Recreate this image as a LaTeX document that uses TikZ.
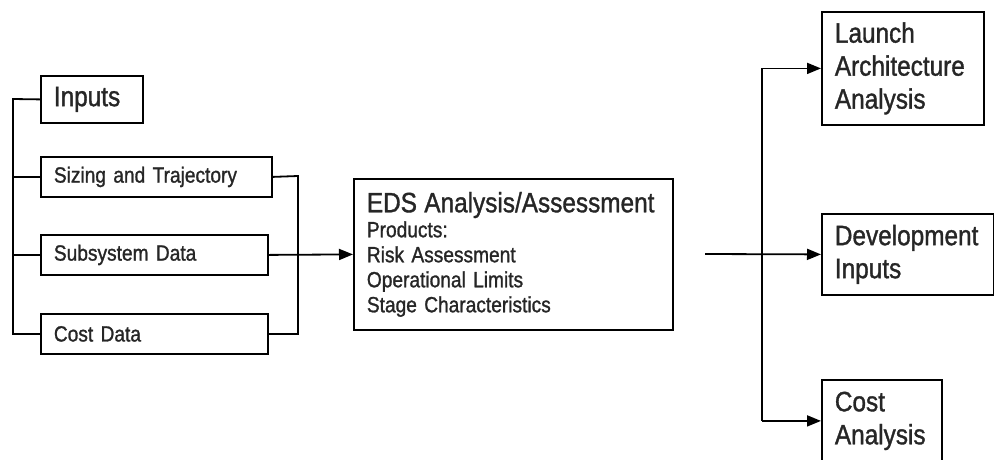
\documentclass[tikz,border=0pt]{standalone}
\usepackage{fontspec}
\setmainfont{Liberation Sans}[FakeStretch=0.87,FakeBold=1.2,WordSpace=0.8]
\usepackage{tikz}
\usetikzlibrary{arrows.meta,calc}

\newcommand{\bigtxt}{\fontsize{28}{33}\selectfont}
\newcommand{\smalltxt}{\fontsize{22}{25}\selectfont}

\tikzset{
  box/.style={draw,line width=1.8pt,anchor=north west,inner xsep=13pt,inner ysep=0pt,align=left,text=black!85},
  link/.style={line width=1.8pt},
}

\begin{document}
\begin{tikzpicture}[x=1pt,y=-1pt,line cap=butt,line join=miter,>={Triangle[length=14pt,width=11pt]}]
\useasboundingbox (0,0) rectangle (994,459);
\clip (0,0) rectangle (994,459);
% input boxes
\node[box,text width=76pt,minimum height=47pt,font=\bigtxt] (inputs) at (40,75) {Inputs};
\node[box,text width=205pt,minimum height=40pt,font=\smalltxt] (sizing) at (40,156) {Sizing and Trajectory};
\node[box,text width=201pt,minimum height=40pt,font=\smalltxt] (subsys) at (40,234) {Subsystem Data};
\node[box,text width=201pt,minimum height=40pt,font=\smalltxt] (costd) at (40,313) {Cost Data};
% analysis
\node[box,text width=293pt,minimum height=151pt,font=\smalltxt] (eds) at (353,178)
  {\mbox{\bigtxt EDS Analysis/Assessment}\\Products:\\Risk Assessment\\Operational Limits\\Stage Characteristics};
% outputs
\node[box,text width=136pt,minimum height=113pt,font=\bigtxt] (launch) at (821,11) {Launch\\Architecture\\Analysis};
\node[box,text width=146pt,minimum height=81pt,font=\bigtxt] (dev) at (821,213) {Development\\Inputs};
\node[box,text width=94pt,minimum height=82pt,font=\bigtxt] (costan) at (821,379) {Cost\\Analysis};
% connectors
\coordinate (lbus) at (13,99);
\coordinate (rbus) at (298,176);
\coordinate (out) at (705,254);
\coordinate (obus) at (762,254);
\draw[link] (inputs.west) -- (lbus) |- (costd.west);
\draw[link] (sizing.west) -- (sizing.west -| lbus);
\draw[link] (subsys.west) -- (subsys.west -| lbus);
\draw[link] (sizing.east) -- (rbus) |- (costd.east);
\draw[link,->] (subsys.east) -- (eds.west);
\draw[link,->] (out) -- (dev.west);
\draw[link,->] (obus |- costan.west) -- (obus |- launch.west) -- (launch.west);
\draw[link,->] (obus |- costan.west) -- (costan.west);
\end{tikzpicture}
\end{document}
